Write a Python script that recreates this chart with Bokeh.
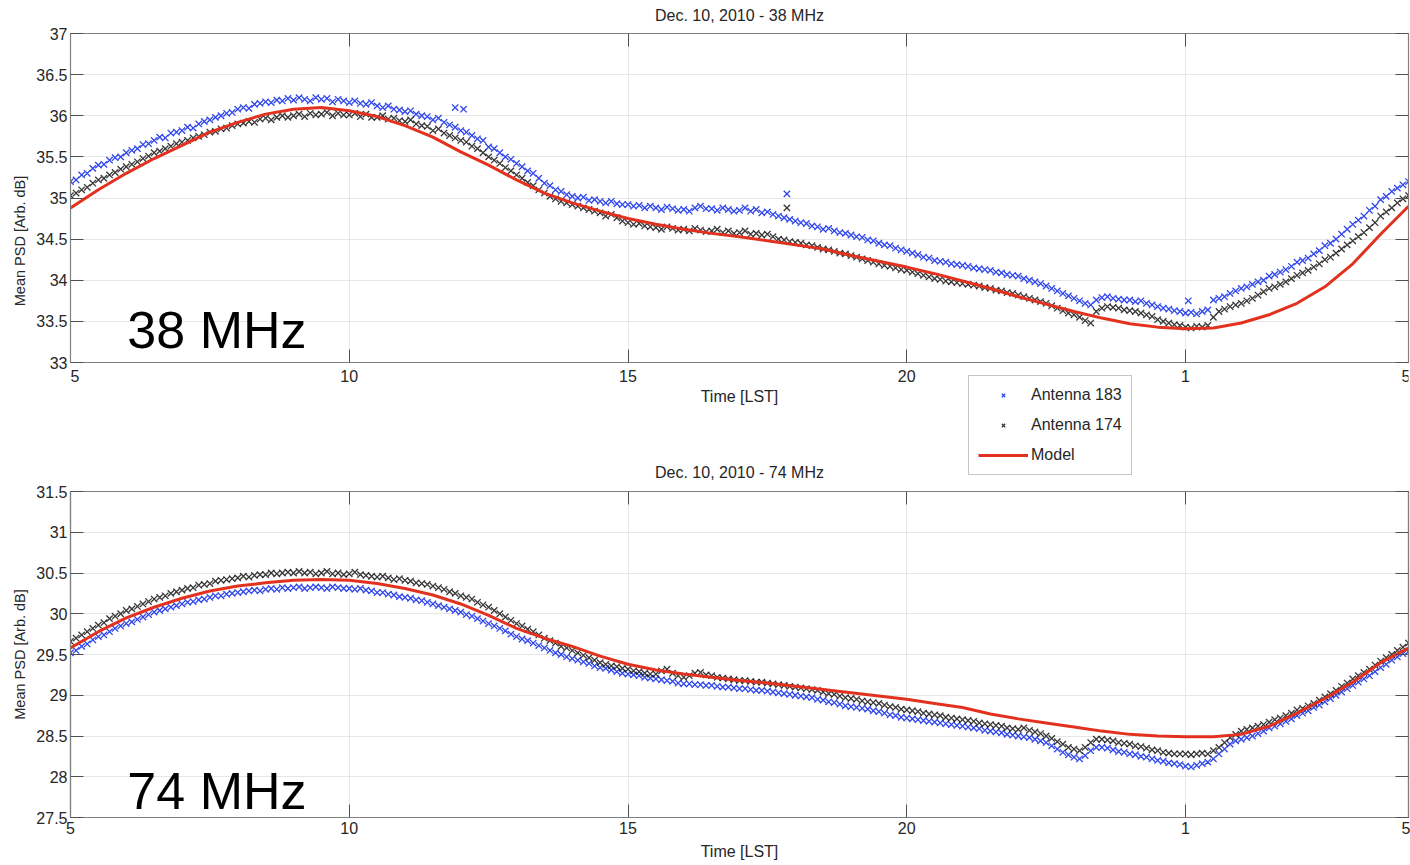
import numpy as np
from bokeh.plotting import figure
from bokeh.models import (FixedTicker, CustomJSTickFormatter, LinearAxis, Label,
                          Legend, LegendItem, Range1d, ColumnDataSource)
from bokeh.layouts import column
from bokeh.embed import file_html
from bokeh.resources import INLINE

# ---------------- data ----------------
# sample times (LST hours, 5 -> 29 == 5 next day), every 0.1 h
hours = np.round(5 + 0.1 * np.arange(241), 1)
model_hours = np.round(5 + 0.5 * np.arange(49), 1)

x_ticks = [5, 10, 15, 20, 25, 29]
y_ticks_38 = [33, 33.5, 34, 34.5, 35, 35.5, 36, 36.5, 37]
y_ticks_74 = [27.5, 28, 28.5, 29, 29.5, 30, 30.5, 31, 31.5]

# 38 MHz, Antenna 183
ant183_38 = [
    35.20, 35.22, 35.28, 35.30, 35.36, 35.40, 35.41, 35.46, 35.49, 35.50,
    35.55, 35.58, 35.60, 35.65, 35.66, 35.70, 35.74, 35.73, 35.79, 35.80,
    35.82, 35.86, 35.85, 35.90, 35.93, 35.95, 35.98, 36.00, 36.03, 36.04,
    36.08, 36.10, 36.09, 36.14, 36.15, 36.17, 36.16, 36.19, 36.18, 36.21,
    36.19, 36.22, 36.20, 36.18, 36.22, 36.20, 36.21, 36.17, 36.20, 36.18,
    36.16, 36.18, 36.15, 36.14, 36.16, 36.12, 36.10, 36.12, 36.08, 36.07,
    36.05, 36.06, 36.02, 36.00, 35.99, 35.95, 35.97, 35.92, 35.89, 35.86,
    35.82, 35.80, 35.76, 35.72, 35.70, 35.62, 35.60, 35.55, 35.50, 35.47,
    35.42, 35.38, 35.33, 35.30, 35.24, 35.18, 35.15, 35.10, 35.08, 35.04,
    35.02, 35.00, 35.01, 34.97, 34.98, 34.96, 34.94, 34.96, 34.93, 34.92,
    34.92, 34.90, 34.91, 34.88, 34.90, 34.88, 34.86, 34.89, 34.87, 34.85,
    34.86, 34.84, 34.88, 34.90, 34.87, 34.87, 34.85, 34.88, 34.86, 34.84,
    34.85, 34.88, 34.84, 34.86, 34.82, 34.83, 34.80, 34.78, 34.76, 34.74,
    34.72, 34.70, 34.69, 34.66, 34.65, 34.62, 34.63, 34.60, 34.58, 34.57,
    34.55, 34.53, 34.52, 34.49, 34.48, 34.45, 34.43, 34.42, 34.39, 34.37,
    34.35, 34.33, 34.31, 34.28, 34.27, 34.24, 34.23, 34.22, 34.20, 34.19,
    34.18, 34.17, 34.15, 34.14, 34.13, 34.12, 34.10, 34.09, 34.07, 34.06,
    34.05, 34.02, 34.00, 33.98, 33.96, 33.93, 33.90, 33.87, 33.84, 33.81,
    33.78, 33.75, 33.72, 33.70, 33.76, 33.79, 33.80, 33.78, 33.77, 33.76,
    33.76, 33.74, 33.75, 33.72, 33.70, 33.68, 33.66, 33.65, 33.63, 33.62,
    33.60, 33.61, 33.59, 33.62, 33.64, 33.76, 33.78, 33.80, 33.84, 33.87,
    33.90, 33.92, 33.95, 33.98, 34.00, 34.05, 34.07, 34.10, 34.13, 34.17,
    34.22, 34.24, 34.27, 34.32, 34.36, 34.42, 34.45, 34.50, 34.56, 34.62,
    34.68, 34.73, 34.78, 34.85, 34.90, 34.98, 35.02, 35.08, 35.12, 35.16,
    35.20]
ant183_38_extra_t = [11.9, 12.05, 17.85, 25.05]
ant183_38_extra_v = [36.10, 36.08, 35.05, 33.75]

# 38 MHz, Antenna 174
ant174_38 = [
    35.03, 35.06, 35.10, 35.13, 35.18, 35.22, 35.24, 35.28, 35.31, 35.35,
    35.38, 35.41, 35.44, 35.48, 35.51, 35.55, 35.57, 35.60, 35.63, 35.66,
    35.68, 35.70, 35.73, 35.75, 35.77, 35.80, 35.81, 35.84, 35.85, 35.88,
    35.90, 35.91, 35.93, 35.92, 35.96, 35.97, 35.95, 35.98, 36.00, 35.98,
    36.00, 36.02, 35.99, 36.03, 36.01, 36.02, 36.04, 36.00, 36.03, 36.01,
    36.01, 36.03, 35.99, 36.02, 35.98, 35.98, 36.00, 35.96, 35.97, 35.94,
    35.93, 35.95, 35.90, 35.88, 35.87, 35.82, 35.84, 35.79, 35.76, 35.73,
    35.70, 35.68, 35.63, 35.60, 35.55, 35.50, 35.46, 35.42, 35.37, 35.33,
    35.28, 35.24, 35.19, 35.15, 35.10, 35.06, 35.02, 34.99, 34.96, 34.94,
    34.92, 34.90, 34.88, 34.86, 34.84, 34.82, 34.78, 34.80, 34.76, 34.72,
    34.70, 34.68, 34.69, 34.66, 34.65, 34.64, 34.62, 34.65, 34.63, 34.61,
    34.62, 34.60, 34.63, 34.61, 34.59, 34.60, 34.62, 34.58, 34.60, 34.57,
    34.58, 34.60, 34.56, 34.57, 34.55, 34.56, 34.53, 34.50, 34.49, 34.47,
    34.46, 34.45, 34.43, 34.42, 34.40, 34.38, 34.37, 34.35, 34.33, 34.32,
    34.30, 34.28, 34.26, 34.24, 34.22, 34.20, 34.18, 34.17, 34.15, 34.13,
    34.12, 34.10, 34.08, 34.06, 34.04, 34.02, 34.01, 33.99, 33.98, 33.97,
    33.96, 33.95, 33.94, 33.93, 33.91, 33.90, 33.88, 33.87, 33.85, 33.84,
    33.82, 33.80, 33.78, 33.76, 33.74, 33.72, 33.69, 33.66, 33.63, 33.60,
    33.58, 33.55, 33.51, 33.48, 33.62, 33.66, 33.68, 33.67, 33.66, 33.64,
    33.63, 33.62, 33.60, 33.58, 33.56, 33.52, 33.50, 33.48, 33.46, 33.45,
    33.43, 33.42, 33.44, 33.43, 33.45, 33.55, 33.62, 33.65, 33.68, 33.70,
    33.72, 33.75, 33.78, 33.82, 33.86, 33.90, 33.92, 33.95, 33.98, 34.02,
    34.06, 34.09, 34.12, 34.16, 34.20, 34.25, 34.28, 34.33, 34.38, 34.43,
    34.48, 34.53, 34.58, 34.64, 34.70, 34.78, 34.83, 34.88, 34.94, 34.99,
    35.03]
ant174_38_extra_t = [17.85]
ant174_38_extra_v = [34.88]

# 38 MHz model (every 0.5 h)
model_38 = [
    34.88, 35.10, 35.30, 35.48, 35.64, 35.80, 35.92, 36.02, 36.08, 36.10,
    36.06, 35.99, 35.88, 35.74, 35.56, 35.40, 35.22, 35.06, 34.94, 34.84,
    34.75, 34.68, 34.62, 34.57, 34.53, 34.48, 34.43, 34.38, 34.30, 34.23,
    34.16, 34.08, 33.99, 33.90, 33.80, 33.71, 33.62, 33.54, 33.47, 33.43,
    33.41, 33.42, 33.48, 33.58, 33.72, 33.92, 34.20, 34.56, 34.90]

# 74 MHz, Antenna 183
ant183_74 = [
    29.52, 29.55, 29.60, 29.63, 29.68, 29.72, 29.74, 29.78, 29.82, 29.85,
    29.88, 29.90, 29.93, 29.96, 29.99, 30.02, 30.04, 30.06, 30.08, 30.10,
    30.12, 30.14, 30.15, 30.17, 30.18, 30.20, 30.22, 30.22, 30.24, 30.25,
    30.26, 30.27, 30.28, 30.29, 30.28, 30.30, 30.31, 30.30, 30.32, 30.31,
    30.32, 30.33, 30.31, 30.32, 30.33, 30.32, 30.31, 30.33, 30.32, 30.31,
    30.31, 30.30, 30.31, 30.29, 30.28, 30.26, 30.26, 30.24, 30.23, 30.21,
    30.20, 30.19, 30.17, 30.16, 30.14, 30.12, 30.10, 30.08, 30.06, 30.04,
    30.02, 29.99, 29.97, 29.94, 29.91, 29.88, 29.85, 29.82, 29.79, 29.75,
    29.72, 29.69, 29.67, 29.64, 29.61, 29.58, 29.55, 29.52, 29.50, 29.47,
    29.45, 29.43, 29.41, 29.39, 29.36, 29.34, 29.33, 29.31, 29.29, 29.27,
    29.26, 29.25, 29.24, 29.22, 29.21, 29.20, 29.19, 29.18, 29.17, 29.15,
    29.14, 29.14, 29.13, 29.13, 29.12, 29.12, 29.11, 29.10, 29.10, 29.09,
    29.08, 29.08, 29.07, 29.06, 29.06, 29.05, 29.04, 29.03, 29.02, 29.01,
    29.00, 28.99, 28.98, 28.97, 28.95, 28.94, 28.92, 28.91, 28.89, 28.87,
    28.86, 28.85, 28.84, 28.83, 28.81, 28.80, 28.78, 28.76, 28.75, 28.73,
    28.72, 28.71, 28.70, 28.69, 28.68, 28.67, 28.66, 28.65, 28.64, 28.63,
    28.62, 28.61, 28.60, 28.59, 28.57, 28.56, 28.55, 28.54, 28.52, 28.51,
    28.50, 28.49, 28.48, 28.46, 28.44, 28.42, 28.38, 28.34, 28.30, 28.27,
    28.24, 28.22, 28.26, 28.32, 28.36, 28.36, 28.35, 28.33, 28.31, 28.30,
    28.28, 28.27, 28.25, 28.24, 28.22, 28.20, 28.19, 28.17, 28.16, 28.15,
    28.13, 28.12, 28.14, 28.16, 28.18, 28.22, 28.28, 28.34, 28.40, 28.44,
    28.46, 28.48, 28.50, 28.53, 28.56, 28.60, 28.62, 28.65, 28.68, 28.71,
    28.75, 28.78, 28.81, 28.85, 28.88, 28.92, 28.96, 29.00, 29.04, 29.08,
    29.12, 29.16, 29.20, 29.24, 29.29, 29.34, 29.38, 29.43, 29.47, 29.51,
    29.54]

# 74 MHz, Antenna 174
ant174_74 = [
    29.66, 29.70, 29.74, 29.78, 29.82, 29.86, 29.89, 29.94, 29.97, 30.00,
    30.04, 30.06, 30.09, 30.12, 30.15, 30.18, 30.20, 30.22, 30.25, 30.27,
    30.29, 30.31, 30.32, 30.35, 30.36, 30.37, 30.40, 30.41, 30.42, 30.43,
    30.44, 30.46, 30.45, 30.47, 30.48, 30.48, 30.50, 30.49, 30.50, 30.51,
    30.50, 30.52, 30.50, 30.51, 30.49, 30.50, 30.52, 30.49, 30.50, 30.48,
    30.49, 30.51, 30.48, 30.47, 30.46, 30.45, 30.46, 30.44, 30.42, 30.43,
    30.41, 30.40, 30.38, 30.37, 30.36, 30.34, 30.32, 30.30, 30.27, 30.25,
    30.22, 30.20, 30.18, 30.14, 30.11, 30.08, 30.04, 30.00, 29.96, 29.92,
    29.88, 29.85, 29.81, 29.78, 29.74, 29.70, 29.67, 29.64, 29.60, 29.58,
    29.55, 29.52, 29.49, 29.46, 29.43, 29.40, 29.38, 29.36, 29.35, 29.33,
    29.32, 29.30, 29.29, 29.27, 29.26, 29.26, 29.30, 29.32, 29.27, 29.24,
    29.22, 29.24, 29.27, 29.28, 29.25, 29.24, 29.22, 29.21, 29.20, 29.19,
    29.18, 29.18, 29.17, 29.16, 29.16, 29.15, 29.14, 29.13, 29.12, 29.11,
    29.10, 29.09, 29.08, 29.07, 29.06, 29.04, 29.02, 29.01, 28.99, 28.97,
    28.96, 28.95, 28.93, 28.92, 28.91, 28.90, 28.88, 28.86, 28.85, 28.83,
    28.82, 28.81, 28.80, 28.78, 28.77, 28.76, 28.75, 28.73, 28.72, 28.71,
    28.70, 28.69, 28.68, 28.66, 28.65, 28.64, 28.63, 28.62, 28.60, 28.59,
    28.58, 28.60, 28.57, 28.55, 28.53, 28.50, 28.47, 28.43, 28.40, 28.36,
    28.34, 28.32, 28.36, 28.42, 28.46, 28.46, 28.45, 28.44, 28.42, 28.41,
    28.40, 28.38, 28.37, 28.35, 28.33, 28.32, 28.30, 28.29, 28.28, 28.28,
    28.28, 28.27, 28.28, 28.29, 28.28, 28.32, 28.36, 28.42, 28.48, 28.52,
    28.56, 28.58, 28.60, 28.62, 28.64, 28.67, 28.70, 28.72, 28.75, 28.78,
    28.82, 28.84, 28.87, 28.90, 28.94, 28.98, 29.02, 29.06, 29.11, 29.15,
    29.20, 29.24, 29.28, 29.32, 29.37, 29.42, 29.46, 29.50, 29.55, 29.59,
    29.64]

# 74 MHz model (every 0.5 h)
model_74 = [
    29.58, 29.78, 29.95, 30.08, 30.19, 30.28, 30.34, 30.38, 30.41, 30.42,
    30.41, 30.37, 30.31, 30.23, 30.12, 29.98, 29.82, 29.70, 29.60, 29.48,
    29.38, 29.31, 29.26, 29.22, 29.18, 29.15, 29.11, 29.07, 29.03, 28.99,
    28.95, 28.90, 28.85, 28.77, 28.71, 28.66, 28.61, 28.56, 28.52, 28.50,
    28.49, 28.49, 28.52, 28.62, 28.78, 28.96, 29.16, 29.40, 29.58]

title_38 = "Dec. 10, 2010 - 38 MHz"
title_74 = "Dec. 10, 2010 - 74 MHz"
x_label = "Time [LST]"
y_label = "Mean PSD [Arb. dB]"

# ---------------- style ----------------
FONT = "Liberation Sans"
BLUE = "#2f46ec"
BLACK = "#151515"
RED = "#e2321f"
AXC = "#808080"
TICKC = "#505050"
TXT = "#262626"
GRID = "#e6e6e6"
MSIZE = 9
MLW = 1.3

X_FMT = "return String(tick > 24.5 ? tick - 24 : tick);"
# first label of the upper panel is padded so that it is not cut at the frame edge
X_FMT_TOP = "if (tick == 5) { return '\\u00a0\\u00a05'; } return String(tick > 24.5 ? tick - 24 : tick);"
Y_FMT = "return String(tick);"

W = 1410
# upper panel: frame spans page y 0..H1 ; data box 33..37 dB drawn at page y 33..362
H1 = 481
BOX1_TOP, BOX1_BOTTOM = 33, 362
PX_PER_DB_1 = (BOX1_BOTTOM - BOX1_TOP) / 4.0
Y1_START = 37 - (H1 - BOX1_TOP) / PX_PER_DB_1
Y1_END = 37 + BOX1_TOP / PX_PER_DB_1
# lower panel
H2 = 383
TOP2, BOTTOM2 = 10, 47


def style_axis(ax, label_size="16px"):
    ax.axis_line_color = AXC
    ax.axis_line_width = 1.2
    ax.major_tick_in = 13
    ax.major_tick_out = 0
    ax.major_tick_line_color = TICKC
    ax.minor_tick_line_color = None
    ax.major_label_text_font = FONT
    ax.major_label_text_font_size = "16px"
    ax.major_label_text_color = TXT
    ax.axis_label_text_font = FONT
    ax.axis_label_text_font_size = label_size
    ax.axis_label_text_font_style = "normal"
    ax.axis_label_text_color = TXT


def tick_only_axis(ticks, bounds="auto", fixed=None):
    return LinearAxis(ticker=FixedTicker(ticks=ticks, minor_ticks=[]),
                      formatter=CustomJSTickFormatter(code="return '';"),
                      major_label_text_color=None, major_label_text_font_size="1px",
                      major_label_standoff=0, bounds=bounds, fixed_location=fixed,
                      major_tick_in=13, major_tick_out=0,
                      major_tick_line_color=TICKC, minor_tick_line_color=None,
                      axis_line_color=AXC, axis_line_width=1.2)


def scatter_src(t, v, et=None, ev=None):
    tt = list(t) + (list(et) if et else [])
    vv = list(v) + (list(ev) if ev else [])
    return ColumnDataSource(dict(t=tt, v=vv))


# ---------------- upper panel (38 MHz) ----------------
p1 = figure(width=W, height=H1, x_range=Range1d(5, 29), y_range=Range1d(Y1_START, Y1_END),
            output_backend="svg", toolbar_location=None,
            min_border_left=70, min_border_right=2, min_border_top=0,
            min_border_bottom=0)
p1.background_fill_color = "white"
p1.border_fill_color = "white"
p1.outline_line_color = None

xa1 = p1.xaxis[0]
xa1.ticker = FixedTicker(ticks=x_ticks, minor_ticks=[])
xa1.formatter = CustomJSTickFormatter(code=X_FMT_TOP)
xa1.axis_label = x_label
xa1.fixed_location = 33
xa1.major_label_standoff = 5
xa1.axis_label_standoff = 0
style_axis(xa1)

ya1 = p1.yaxis[0]
ya1.ticker = FixedTicker(ticks=y_ticks_38, minor_ticks=[])
ya1.formatter = CustomJSTickFormatter(code=Y_FMT)
ya1.axis_label = y_label
ya1.bounds = (33, 37)
ya1.major_label_standoff = 3
ya1.axis_label_standoff = 5
style_axis(ya1, "14.5px")

p1.add_layout(tick_only_axis(x_ticks, fixed=37), "above")
p1.add_layout(tick_only_axis(y_ticks_38, (33, 37)), "right")

p1.xgrid.grid_line_color = GRID
p1.ygrid.grid_line_color = GRID
try:
    p1.xgrid.cross_bounds = (33, 37)
except Exception:
    p1.xgrid.grid_line_color = None
    p1.segment(x0=x_ticks, y0=[33] * len(x_ticks), x1=x_ticks, y1=[37] * len(x_ticks),
               line_color=GRID, line_width=1, level="underlay")

rb1 = p1.scatter("t", "v", source=scatter_src(hours, ant183_38, ant183_38_extra_t, ant183_38_extra_v),
                 marker="x", size=MSIZE, line_color=BLUE, line_width=MLW)
rk1 = p1.scatter("t", "v", source=scatter_src(hours, ant174_38, ant174_38_extra_t, ant174_38_extra_v),
                 marker="x", size=MSIZE, line_color=BLACK, line_width=MLW, line_alpha=0.85)
rm1 = p1.line(model_hours, model_38, line_color=RED, line_width=3)

p1.add_layout(Label(x=17.0, y=37 + (BOX1_TOP - 15) / PX_PER_DB_1, text=title_38,
                    text_align="center", text_baseline="middle", text_font=FONT,
                    text_font_size="16px", text_color=TXT))
p1.add_layout(Label(x=6.02, y=33.39, text="38 MHz", text_align="left",
                    text_baseline="alphabetic", text_font=FONT, text_font_size="52px",
                    text_color="black"))
# title of the lower panel sits in the gap that the legend shares
p1.add_layout(Label(x=17.0, y=37 - (472 - BOX1_TOP) / PX_PER_DB_1, text=title_74,
                    text_align="center", text_baseline="middle", text_font=FONT,
                    text_font_size="16px", text_color=TXT))

legend = Legend(items=[LegendItem(label="Antenna 183", renderers=[rb1]),
                       LegendItem(label="Antenna 174", renderers=[rk1]),
                       LegendItem(label="Model", renderers=[rm1])],
                location=(898, 6), orientation="vertical",
                padding=9, spacing=10, margin=0,
                glyph_width=50, glyph_height=12, label_height=20, label_standoff=3,
                label_text_font=FONT, label_text_font_size="16px", label_text_color=TXT,
                border_line_color="#8c8c8c", border_line_width=1.2,
                background_fill_color="white", background_fill_alpha=1.0)
p1.add_layout(legend, "center")

# ---------------- lower panel (74 MHz) ----------------
p2 = figure(width=W, height=H2, x_range=Range1d(5, 29), y_range=Range1d(27.5, 31.5),
            output_backend="svg", toolbar_location=None,
            min_border_left=70, min_border_right=2, min_border_top=TOP2,
            min_border_bottom=BOTTOM2)
p2.background_fill_color = "white"
p2.border_fill_color = "white"
p2.outline_line_color = AXC
p2.outline_line_width = 1.2

xa2 = p2.xaxis[0]
xa2.ticker = FixedTicker(ticks=x_ticks, minor_ticks=[])
xa2.formatter = CustomJSTickFormatter(code=X_FMT)
xa2.axis_label = x_label
xa2.major_label_standoff = 4
xa2.axis_label_standoff = 6
style_axis(xa2)

ya2 = p2.yaxis[0]
ya2.ticker = FixedTicker(ticks=y_ticks_74, minor_ticks=[])
ya2.formatter = CustomJSTickFormatter(code=Y_FMT)
ya2.axis_label = y_label
ya2.major_label_standoff = 3
ya2.axis_label_standoff = 5
style_axis(ya2, "14.5px")

p2.add_layout(tick_only_axis(x_ticks), "above")
p2.add_layout(tick_only_axis(y_ticks_74), "right")
p2.xgrid.grid_line_color = GRID
p2.ygrid.grid_line_color = GRID

p2.scatter("t", "v", source=scatter_src(hours, ant183_74),
           marker="x", size=MSIZE, line_color=BLUE, line_width=MLW)
p2.scatter("t", "v", source=scatter_src(hours, ant174_74),
           marker="x", size=MSIZE, line_color=BLACK, line_width=MLW, line_alpha=0.85)
p2.line(model_hours, model_74, line_color=RED, line_width=3)
p2.add_layout(Label(x=6.02, y=27.83, text="74 MHz", text_align="left",
                    text_baseline="alphabetic", text_font=FONT, text_font_size="52px",
                    text_color="black"))

layout = column(p1, p2, spacing=0)
open("out.html", "w").write(file_html(layout, INLINE))
